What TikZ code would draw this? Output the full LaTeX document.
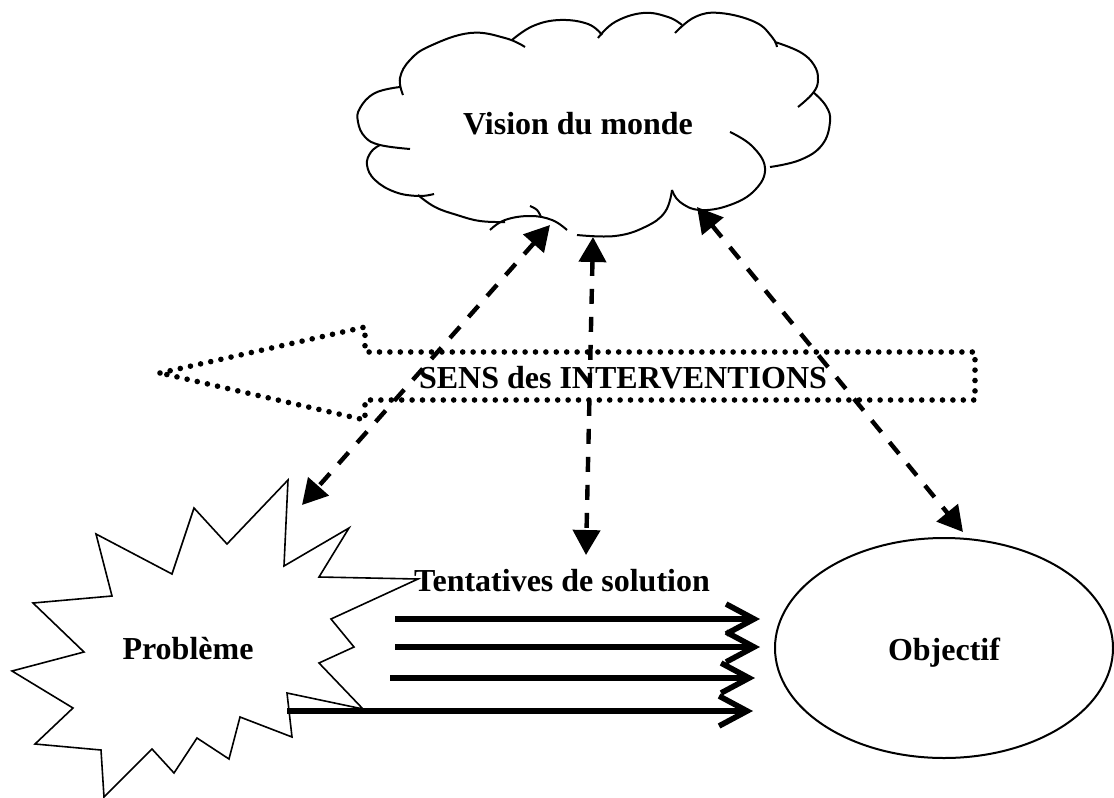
\documentclass[tikz,border=0pt]{standalone}
\usepackage{fontspec}
\setmainfont{Liberation Serif}
\usetikzlibrary{arrows.meta,shapes.geometric}
\begin{document}
\begin{tikzpicture}[x=0.5pt,y=-0.5pt,
  cloudline/.style={line width=1pt, line cap=butt},
  lbl/.style={font=\bfseries\fontsize{16}{19}\selectfont, inner sep=0pt},
  dasharrow/.style={line width=2.2pt, dash pattern=on 7.5pt off 6.5pt,
    {Triangle[length=12.5pt,width=13.5pt]}-{Triangle[length=12.5pt,width=13.5pt]}},
  tryarrow/.style={line width=2.8pt, -{Straight Barb[length=14pt,width=15pt]}},
  dotline/.style={line width=2.8pt, dash pattern=on 0pt off 5.2pt, line cap=round, line join=round},
  starline/.style={line width=0.8pt, line join=miter}
]
\useasboundingbox (0,0) rectangle (1114,798);

% ---------- cloud ----------
\draw[cloudline] plot[smooth, tension=0.7] coordinates {(400,87) (375,93) (360,108) (358,122) (365,137) (380,145) (410,149)};
\draw[cloudline] plot[smooth, tension=0.7] coordinates {(403,95) (400,78) (410,60) (430,46) (470,33) (505,38) (525,47)};
\draw[cloudline] plot[smooth, tension=0.7] coordinates {(512,40) (533,26) (560,20) (588,24) (602,35)};
\draw[cloudline] plot[smooth, tension=0.7] coordinates {(598,38) (615,22) (643,13) (668,17) (682,25)};
\draw[cloudline] plot[smooth, tension=0.7] coordinates {(675,33) (695,17) (720,13) (755,22) (772,37) (777,47)};
\draw[cloudline] plot[smooth, tension=0.7] coordinates {(775,42) (800,52) (814,65) (818,80) (813,93) (798,107)};
\draw[cloudline] plot[smooth, tension=0.7] coordinates {(813,92) (826,106) (830,122) (822,145) (800,160) (770,167)};
\draw[cloudline] plot[smooth, tension=0.7] coordinates {(730,132) (752,146) (765,168) (755,190) (730,205) (700,210) (680,202) (672,190)};
\draw[cloudline] plot[smooth, tension=0.7] coordinates {(672,190) (665,212) (645,227) (615,236) (577,235)};
\draw[cloudline] plot[smooth, tension=0.7] coordinates {(567,230) (552,220) (530,216) (505,220) (490,230)};
\draw[cloudline] plot[smooth, tension=0.7] coordinates {(530,206) (537,210) (541,217)};
\draw[cloudline] plot[smooth, tension=0.7] coordinates {(418,195) (435,207) (457,215) (480,221) (505,222)};
\draw[cloudline] plot[smooth, tension=0.7] coordinates {(434,194) (418,196) (395,192) (375,180) (367,165) (371,152) (380,145)};
\node[lbl] (vision) at (578,124) {Vision du monde};

% ---------- starburst ----------
\draw[starline] (288,480) -- (284,566) -- (349,528) -- (319,577) -- (418,579)
  -- (331,619) -- (354,647) -- (319,663) -- (363,709) -- (287,693) -- (292,737)
  -- (240,717) -- (229,759) -- (197,738) -- (174,773) -- (152,749) -- (104,797)
  -- (101,750) -- (35,744) -- (73,708) -- (12,671) -- (84,652) -- (33,603)
  -- (112,596) -- (96,534) -- (172,574) -- (194,508) -- (227,544) -- cycle;
\node[lbl] (prob) at (188,649) {Problème};

% ---------- objective ----------
\node[draw, ellipse, line width=1pt, minimum width=169pt, minimum height=110pt, inner sep=0pt] (obj) at (944,648) {};
\node[lbl] (objl) at (944,653) {Objectif};

% ---------- big dotted arrow ----------
\draw[dotline] (160,373) -- (365,327) -- (365,352) -- (975,352) -- (975,400)
  -- (365,400) -- (365,420) -- cycle;
\node[lbl] (sens) at (623,378) {SENS des INTERVENTIONS};

% ---------- dashed double arrows ----------
\coordinate (c1) at (550,225);
\coordinate (p1) at (302,505);
\coordinate (c2) at (593,237);
\coordinate (t2) at (586,555);
\coordinate (c3) at (697,207);
\coordinate (o3) at (963,532);
\draw[dasharrow] (c1) -- (p1);
\draw[dasharrow] (c2) -- (t2);
\draw[dasharrow] (c3) -- (o3);

% ---------- attempts ----------
\node[lbl] (tent) at (562,581) {Tentatives de solution};
\coordinate (s1) at (395,619); \coordinate (e1) at (760,619);
\coordinate (s2) at (395,647); \coordinate (e2) at (760,647);
\coordinate (s3) at (390,678); \coordinate (e3) at (755,678);
\coordinate (s4) at (287,711); \coordinate (e4) at (753,711);
\draw[tryarrow] (s1) -- (e1);
\draw[tryarrow] (s2) -- (e2);
\draw[tryarrow] (s3) -- (e3);
\draw[tryarrow] (s4) -- (e4);
\end{tikzpicture}
\end{document}
